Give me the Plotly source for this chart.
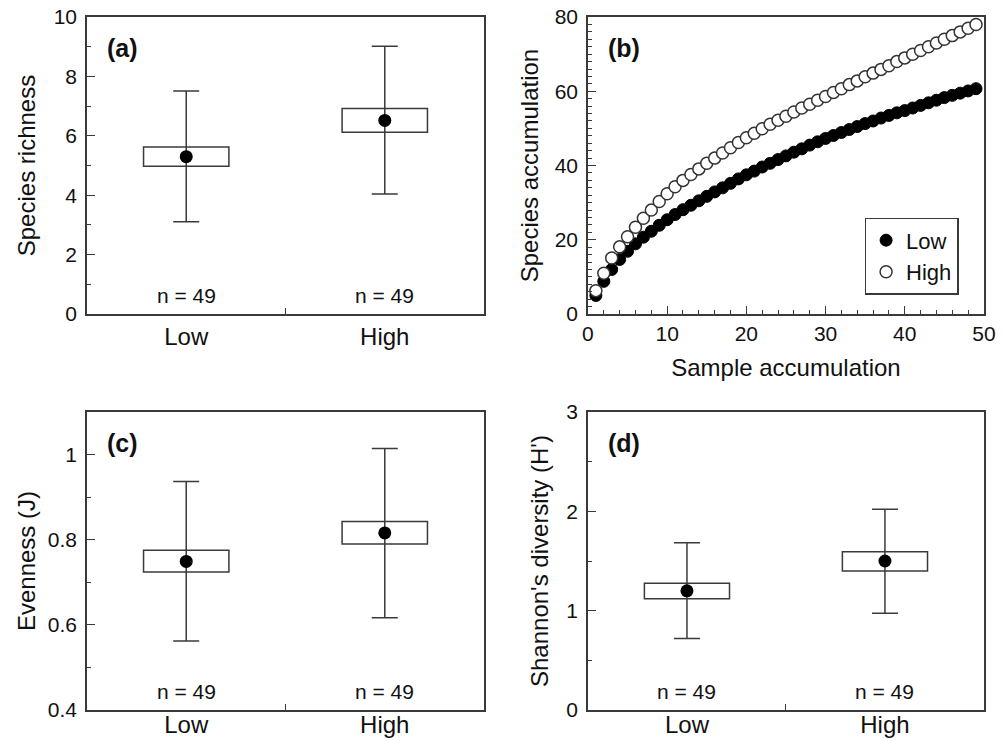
import plotly.graph_objects as go

# ---------------- data ----------------
groups = ["Low", "High"]
n_labels = ["n = 49", "n = 49"]

# (a) Species richness
rich_mean = [5.30, 6.52]
rich_box_lo = [4.98, 6.12]
rich_box_hi = [5.62, 6.92]
rich_wh_lo = [3.11, 4.04]
rich_wh_hi = [7.51, 9.02]

# (c) Evenness (J)
even_mean = [0.749, 0.816]
even_box_lo = [0.724, 0.790]
even_box_hi = [0.775, 0.843]
even_wh_lo = [0.562, 0.617]
even_wh_hi = [0.937, 1.014]

# (d) Shannon's diversity (H')
shan_mean = [1.20, 1.50]
shan_box_lo = [1.12, 1.40]
shan_box_hi = [1.276, 1.594]
shan_wh_lo = [0.72, 0.974]
shan_wh_hi = [1.685, 2.02]

# (b) Species accumulation curves
samples = list(range(1, 50))
acc_low = [5.0, 8.8, 12.0, 14.7, 16.9, 18.9, 20.7, 22.3, 23.9, 25.4,
           26.8, 28.1, 29.3, 30.5, 31.7, 32.9, 34.0, 35.2, 36.4, 37.5,
           38.5, 39.6, 40.6, 41.6, 42.6, 43.6, 44.5, 45.5, 46.4, 47.3,
           48.1, 48.9, 49.7, 50.5, 51.3, 52.0, 52.8, 53.5, 54.2, 54.8,
           55.5, 56.2, 56.9, 57.6, 58.3, 58.9, 59.5, 60.1, 60.7]
acc_high = [6.3, 11.0, 15.1, 18.1, 20.8, 23.4, 25.8, 28.0, 30.3, 32.4,
            34.3, 36.0, 37.6, 39.1, 40.6, 42.0, 43.4, 44.8, 46.2, 47.5,
            48.7, 49.9, 51.1, 52.2, 53.3, 54.4, 55.5, 56.5, 57.6, 58.6,
            59.7, 60.7, 61.8, 62.8, 63.9, 64.9, 65.9, 66.9, 68.0, 69.0,
            70.0, 71.0, 72.0, 73.0, 74.0, 75.0, 76.0, 77.0, 78.0]

# ---------------- style ----------------
FONT = "Liberation Sans, Arial, Helvetica, sans-serif"
INK = "#111111"
LINE = "#3a3a3a"

fig = go.Figure()


def add_box_panel(xa, ya, mean, blo, bhi, wlo, whi):
    fig.add_trace(go.Bar(
        x=groups, y=[h - l for h, l in zip(bhi, blo)], base=blo,
        width=0.43, marker=dict(color="white", line=dict(color=LINE, width=1.5)),
        xaxis=xa, yaxis=ya, showlegend=False, hoverinfo="skip"))
    fig.add_trace(go.Scatter(
        x=groups, y=mean, mode="markers",
        marker=dict(color="black", size=13),
        error_y=dict(type="data", symmetric=False,
                     array=[h - m for h, m in zip(whi, mean)],
                     arrayminus=[m - l for m, l in zip(mean, wlo)],
                     color=LINE, thickness=1.5, width=13),
        xaxis=xa, yaxis=ya, showlegend=False))


add_box_panel("x", "y", rich_mean, rich_box_lo, rich_box_hi, rich_wh_lo, rich_wh_hi)
add_box_panel("x3", "y3", even_mean, even_box_lo, even_box_hi, even_wh_lo, even_wh_hi)
add_box_panel("x4", "y4", shan_mean, shan_box_lo, shan_box_hi, shan_wh_lo, shan_wh_hi)

fig.add_trace(go.Scatter(
    x=samples, y=acc_low, mode="markers", name="Low",
    marker=dict(color="black", size=12, line=dict(color="black", width=1)),
    xaxis="x2", yaxis="y2"))
fig.add_trace(go.Scatter(
    x=samples, y=acc_high, mode="markers", name="High",
    marker=dict(color="white", size=12, line=dict(color="#333333", width=1.5)),
    xaxis="x2", yaxis="y2"))

xL = [0.0867, 0.4826]
xR = [0.5862, 0.9810]
yT = [0.5762, 0.977]
yB = [0.0418, 0.444]

common = dict(showline=True, mirror=True, linecolor=LINE, linewidth=1.5,
              ticks="inside", tickcolor=LINE, tickwidth=1.2, showgrid=False,
              zeroline=False, automargin=False,
              tickfont=dict(family=FONT, size=21, color=INK))
yax = dict(common, ticklabelstandoff=4)
cat_axis = dict(common, type="category", range=[-0.5, 1.5], tickson="boundaries",
                ticklen=6, tickfont=dict(family=FONT, size=24, color=INK))
cat_axis_low = dict(cat_axis, ticklabelstandoff=-8)
ttl = lambda s, so: dict(text=s, font=dict(family=FONT, size=24, color=INK), standoff=so)

fig.update_layout(
    template="none",
    width=1003, height=741,
    margin=dict(l=0, r=0, t=0, b=0),
    paper_bgcolor="white", plot_bgcolor="white",
    font=dict(family=FONT, color=INK),
    xaxis=dict(cat_axis, domain=xL, anchor="y"),
    yaxis=dict(yax, domain=yT, anchor="x", range=[0, 10], dtick=2, ticklen=8,
               minor=dict(dtick=1, ticklen=4, ticks="inside", tickcolor=LINE),
               title=ttl("Species richness", 11)),
    xaxis2=dict(common, domain=xR, anchor="y2", range=[0, 50], dtick=10, ticklen=8,
                minor=dict(dtick=2, ticklen=4, ticks="inside", tickcolor=LINE),
                title=ttl("Sample accumulation", 15)),
    yaxis2=dict(yax, domain=yT, anchor="x2", range=[0, 80], dtick=20, ticklen=8,
                minor=dict(dtick=2, ticklen=4, ticks="inside", tickcolor=LINE),
                title=ttl("Species accumulation", 9)),
    xaxis3=dict(cat_axis_low, domain=xL, anchor="y3"),
    yaxis3=dict(yax, domain=yB, anchor="x3", range=[0.4, 1.1], dtick=0.2, tick0=0.4, ticklen=8,
                minor=dict(dtick=0.1, tick0=0.4, ticklen=4, ticks="inside", tickcolor=LINE),
                title=ttl("Evenness (J)", 5)),
    xaxis4=dict(cat_axis_low, domain=xR, anchor="y4"),
    yaxis4=dict(yax, domain=yB, anchor="x4", range=[0, 3], dtick=1, ticklen=8,
                minor=dict(dtick=0.5, ticklen=4, ticks="inside", tickcolor=LINE),
                title=ttl("Shannon's diversity (H')", 11)),
    legend=dict(x=0.862, y=0.706, xanchor="left", yanchor="top",
                bgcolor="white", bordercolor=LINE, borderwidth=1.5,
                font=dict(family=FONT, size=22, color=INK),
                itemwidth=30, tracegroupgap=0),
)

# n labels and panel letters
for xa, ya in [("x", "y"), ("x3", "y3"), ("x4", "y4")]:
    for g, t in zip(groups, n_labels):
        fig.add_annotation(x=g, y=0.063, xref=xa, yref=ya + " domain", text=t,
                           showarrow=False, yanchor="middle",
                           font=dict(family=FONT, size=21, color=INK))
for xa, ya, letter in [("x", "y", "(a)"), ("x2", "y2", "(b)"), ("x3", "y3", "(c)"), ("x4", "y4", "(d)")]:
    fig.add_annotation(x=0.09, y=0.895, xref=xa + " domain", yref=ya + " domain",
                       text="<b>" + letter + "</b>", showarrow=False,
                       xanchor="center", yanchor="middle",
                       font=dict(family=FONT, size=25, color=INK))

fig.write_html("out.html", config={"displayModeBar": False},
               post_script="document.body.style.margin='0';document.body.style.overflow='hidden';")
